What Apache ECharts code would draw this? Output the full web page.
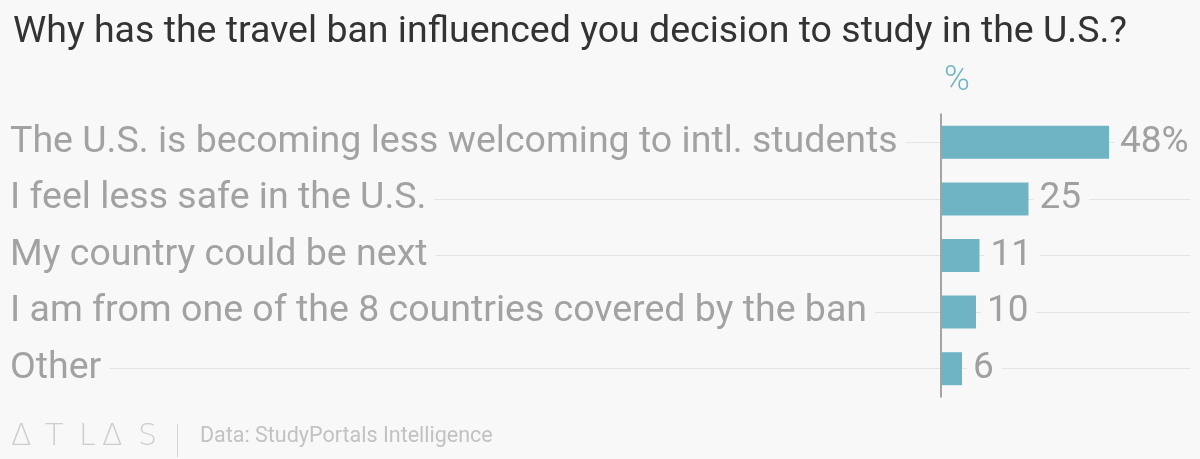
<!DOCTYPE html>
<html><head><meta charset="utf-8">
<script src="https://cdn.jsdelivr.net/npm/echarts@6/dist/echarts.min.js"></script>
<style>html,body{margin:0;padding:0;background:#f8f8f8;}#c{width:1200px;height:459px;}</style>
</head><body><div id="c"></div>
<script>
const categories = [
  "The U.S. is becoming less welcoming to intl. students",
  "I feel less safe in the U.S.",
  "My country could be next",
  "I am from one of the 8 countries covered by the ban",
  "Other"
];
const values = [48, 25, 11, 10, 6];
const titleText = "Why has the travel ban influenced you decision to study in the U.S.?";
const unitLabel = "%";
const sourceText = "Data: StudyPortals Intelligence";
const logoLetters = ["\u0394", "T", "L", "\u0394", "S"];

const BG = '#f8f8f8';
const logoX = [11, 45, 79, 102, 138];
const chart = echarts.init(document.getElementById('c'));
chart.setOption({
  backgroundColor: BG,
  animation: false,
  title: {
    text: titleText, left: 8, top: 9,
    textStyle: {fontFamily: 'Roboto', fontWeight: 400, fontSize: 37.5, color: '#333'}
  },
  graphic: [
    {type: 'text', left: 944, top: 64, style: {text: unitLabel, fontFamily: 'Roboto', fontWeight: 300, fontSize: 35, fill: '#6fb3c4'}}
  ].concat(logoLetters.map((ch, i) => ({
    type: 'text', left: logoX[i], top: 422,
    style: {text: ch, fontFamily: 'DejaVu Sans', fontWeight: 200, fontSize: 30, fill: '#cdcdcd'}
  }))).concat([
    {type: 'rect', left: 177, top: 424, shape: {width: 1, height: 33}, style: {fill: '#d6d6d6'}},
    {type: 'text', left: 200, top: 426, style: {text: sourceText, fontFamily: 'Roboto', fontSize: 21.5, fill: '#c2c2c2'}}
  ]),
  grid: [
    {left: 941, width: 248.5, top: 114, bottom: 62},
    {left: 10, right: 10, top: 142.3, bottom: 90.3}
  ],
  xAxis: [
    {gridIndex: 0, type: 'value', min: 0, max: 71, show: false},
    {gridIndex: 1, type: 'value', min: 0, max: 1, show: false}
  ],
  yAxis: [
    {
      gridIndex: 0, type: 'category', data: categories, inverse: true, z: 3,
      axisLine: {show: true, lineStyle: {color: '#8a8a8a', width: 1.5}},
      axisTick: {show: false},
      splitLine: {show: false},
      axisLabel: {
        margin: 931, align: 'left', fontFamily: 'Roboto', fontWeight: 400, fontSize: 37.5, color: '#a2a2a2',
        backgroundColor: BG, padding: [0, 8, 0, 0]
      }
    },
    {
      gridIndex: 1, type: 'category', data: categories, inverse: true, boundaryGap: false, z: 0,
      axisLine: {show: false}, axisTick: {show: false}, axisLabel: {show: false},
      splitLine: {show: true, interval: 0, lineStyle: {color: '#e4e4e4', width: 1}}
    }
  ],
  series: [{
    type: 'bar', xAxisIndex: 0, yAxisIndex: 0, data: values, barWidth: 33, z: 4,
    itemStyle: {color: '#6fb4c5'},
    label: {
      show: true, position: 'right', distance: 5,
      backgroundColor: BG, padding: [0, 8, 0, 6],
      fontFamily: 'Roboto', fontWeight: 400, fontSize: 37, color: '#a0a0a0',
      formatter: p => p.dataIndex === 0 ? p.value + '%' : String(p.value)
    }
  }]
});
</script></body></html>
